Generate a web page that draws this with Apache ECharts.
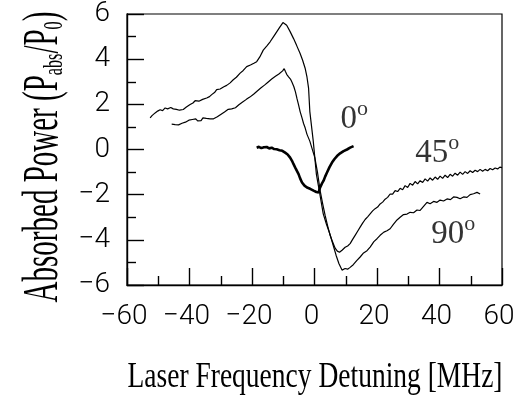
<!DOCTYPE html>
<html>
<head>
<meta charset="utf-8">
<script src="https://cdn.jsdelivr.net/npm/echarts@6/dist/echarts.min.js"></script>
<style>
html, body { margin: 0; padding: 0; background: #fff; }
#main { width: 526px; height: 403px; }
</style>
</head>
<body>
<div id="main"></div>
<script>
// x: detuning [MHz], y: absorbed power
var curve0 = [[-18.5,0.08],[-17.8,0.12],[-17.0,0.06],[-16.2,0.10],[-15.3,0.11],[-14.5,0.05],[-13.7,0.08],[-12.9,0.02],
    [-12.1,0.01],[-11.2,-0.03],[-10.3,-0.06],[-9.4,-0.14],[-8.6,-0.22],[-7.8,-0.36],[-7.2,-0.50],[-6.7,-0.65],[-6.0,-0.85],
    [-5.1,-1.09],[-4.6,-1.28],[-4.0,-1.46],[-3.2,-1.60],[-2.4,-1.68],[-1.4,-1.74],[-0.3,-1.82],[0.6,-1.88],[1.3,-1.90],
    [1.8,-1.68],[2.4,-1.50],[2.9,-1.38],[3.4,-1.20],[4.0,-1.02],[4.8,-0.78],[5.6,-0.58],[6.4,-0.42],[7.2,-0.29],[8.2,-0.17],
    [9.3,-0.07],[10.4,0.00],[11.4,0.08],[12.5,0.15]];

var curve45 = [[-45.7,1.12],[-45.2,1.05],[-44.6,1.10],[-44.1,1.02],[-43.5,1.09],[-43.0,1.05],[-42.4,1.16],[-41.9,1.10],
    [-41.3,1.21],[-40.8,1.14],[-40.2,1.30],[-39.7,1.22],[-39.1,1.33],[-38.6,1.25],[-38.0,1.36],[-37.4,1.27],[-36.9,1.35],
    [-36.3,1.28],[-35.7,1.40],[-35.1,1.32],[-34.6,1.38],[-34.0,1.30],[-33.4,1.36],[-32.8,1.29],[-32.3,1.36],[-31.7,1.32],
    [-31.1,1.45],[-30.5,1.40],[-30.0,1.55],[-29.4,1.48],[-28.8,1.66],[-28.2,1.60],[-27.6,1.78],[-27.1,1.70],[-26.5,1.80],
    [-25.9,1.72],[-25.3,1.85],[-24.7,1.80],[-24.2,1.98],[-23.6,1.92],[-23.0,2.10],[-22.4,2.02],[-21.8,2.22],[-21.3,2.14],
    [-20.7,2.32],[-20.1,2.26],[-19.5,2.45],[-18.9,2.40],[-18.4,2.58],[-17.8,2.52],[-17.2,2.72],[-16.6,2.66],[-16.0,2.85],
    [-15.5,2.80],[-14.9,2.98],[-14.3,2.92],[-13.7,3.12],[-13.1,3.08],[-12.5,3.24],[-12.0,3.18],[-11.4,3.34],[-10.8,3.28],
    [-10.2,3.48],[-9.7,3.58],[-9.3,3.45],[-8.9,3.33],[-8.3,3.22],[-7.7,3.12],[-7.2,2.98],[-6.6,2.78],[-6.1,2.55],[-5.6,2.25],
    [-5.1,1.98],[-4.6,1.68],[-4.0,1.40],[-3.5,1.15],[-3.0,0.96],[-2.4,0.67],[-1.5,0.37],[0.1,-0.36],[1.0,-1.05],[1.8,-1.82],
    [2.6,-2.40],[3.4,-2.92],[4.2,-3.38],[5.0,-3.80],[5.8,-4.10],[6.6,-4.37],[7.3,-4.50],[8.0,-4.55],[8.9,-4.45],[9.8,-4.33],
    [10.6,-4.27],[11.4,-4.17],[12.2,-3.98],[13.0,-3.80],[13.8,-3.62],[14.6,-3.44],[15.4,-3.26],[16.2,-3.10],[17.0,-2.98],
    [17.8,-2.85],[18.6,-2.72],[19.4,-2.62],[20.2,-2.55],[21.0,-2.41],[21.8,-2.33],[22.6,-2.20],[23.4,-2.12],[24.2,-1.97],
    [25.0,-1.98],[25.8,-1.82],[26.6,-1.86],[27.4,-1.72],[28.2,-1.78],[29.0,-1.60],[29.8,-1.68],[30.6,-1.50],[31.4,-1.58],
    [32.2,-1.42],[33.0,-1.52],[33.8,-1.38],[34.6,-1.46],[35.4,-1.30],[36.2,-1.40],[37.0,-1.26],[37.8,-1.36],[38.6,-1.22],
    [39.4,-1.32],[40.2,-1.18],[41.0,-1.28],[41.8,-1.14],[42.6,-1.24],[43.4,-1.10],[44.2,-1.18],[45.0,-1.05],[45.8,-1.14],
    [46.6,-1.00],[47.4,-1.10],[48.2,-0.98],[49.0,-1.06],[49.8,-0.94],[50.6,-1.02],[51.4,-0.92],[52.2,-0.98],[53.0,-0.88],
    [53.8,-0.96],[54.6,-0.88],[55.4,-0.94],[56.2,-0.84],[57.0,-0.90],[57.8,-0.82],[58.6,-0.86],[59.3,-0.78],[60.0,-0.80]];

var curve90 = [[-52.6,1.40],[-52.0,1.50],[-51.0,1.62],[-50.2,1.70],[-49.4,1.76],[-48.6,1.72],[-47.8,1.84],[-47.0,1.80],
    [-46.0,1.86],[-45.2,1.80],[-44.2,1.78],[-43.2,1.74],[-42.0,1.77],[-41.0,1.88],[-39.8,1.99],[-38.9,2.06],[-38.2,2.16],
    [-37.0,2.14],[-35.8,2.22],[-34.5,2.28],[-33.6,2.34],[-32.9,2.43],[-32.0,2.52],[-31.3,2.65],[-30.2,2.68],[-29.0,2.78],
    [-28.1,2.84],[-27.0,2.95],[-26.0,3.09],[-25.0,3.20],[-23.8,3.38],[-22.8,3.50],[-21.7,3.67],[-20.5,3.74],[-19.4,3.82],
    [-18.5,3.89],[-17.5,4.10],[-16.4,4.40],[-15.3,4.58],[-14.2,4.77],[-13.1,5.00],[-12.1,5.21],[-11.1,5.42],[-10.1,5.62],
    [-9.5,5.56],[-8.9,5.50],[-7.8,5.22],[-6.7,4.91],[-5.7,4.60],[-4.6,4.25],[-3.8,3.95],[-3.0,3.60],[-2.4,3.20],[-1.9,2.72],
    [-1.5,1.69],[-0.4,0.37],[0.6,-1.09],[1.7,-1.97],[2.8,-2.85],[3.8,-3.30],[4.9,-3.73],[6.0,-4.25],[6.9,-4.68],[7.8,-5.05],
    [8.8,-5.34],[9.8,-5.27],[10.6,-5.30],[11.4,-5.22],[12.4,-5.10],[13.5,-4.92],[14.6,-4.76],[15.7,-4.58],[16.8,-4.48],
    [17.8,-4.32],[19.0,-4.08],[20.0,-3.95],[21.0,-3.80],[22.2,-3.66],[23.2,-3.60],[24.2,-3.51],[25.3,-3.30],[26.4,-3.12],
    [27.4,-3.00],[28.5,-2.88],[29.6,-2.86],[30.6,-2.78],[31.7,-2.80],[32.8,-2.68],[33.8,-2.70],[34.9,-2.52],[36.0,-2.34],
    [37.0,-2.40],[38.1,-2.30],[39.2,-2.34],[40.2,-2.24],[41.3,-2.28],[42.4,-2.19],[43.5,-2.22],[44.5,-2.10],[45.6,-2.12],
    [46.6,-2.18],[47.7,-2.10],[48.8,-2.12],[49.8,-2.00],[50.9,-1.96],[52.0,-1.90],[53.0,-1.97]];

// angle labels placed in data coordinates
var angleText = ['0', '45', '90'];
var angleX = [12.7, 39.3, 44.4];
var angleY = [1.45, -0.07, -3.65];

var xTicks = {min: -60, max: 60, step: 20};
var yTicks = {min: -6, max: 6, step: 2};

function minus(v) {
    return String(v).replace('-', '\u2212');
}

var tickFont = {fontSize: 28, fontFamily: 'Roboto', fontWeight: 300, color: '#000'};
var black = {color: '#000', width: 1.4};

var labelData = [];
for (var i = 0; i < angleText.length; i++) {
    labelData.push({value: [angleX[i], angleY[i]], name: angleText[i]});
}

var myChart = echarts.init(document.getElementById('main'));

var option = {
    animation: false,
    backgroundColor: '#fff',
    grid: {left: 127, right: 24, top: 12, bottom: 118, show: true, borderColor: '#000', borderWidth: 1.2},
    xAxis: {
        type: 'value',
        min: xTicks.min, max: xTicks.max, interval: xTicks.step,
        axisLine: {show: true, onZero: false, lineStyle: black},
        axisTick: {show: true, inside: true, length: 17, lineStyle: black},
        minorTick: {show: true, splitNumber: 2, length: 9, lineStyle: black},
        splitLine: {show: false},
        axisLabel: Object.assign({margin: 18, padding: [0, 6, 0, 0], formatter: minus}, tickFont)
    },
    yAxis: {
        type: 'value',
        min: yTicks.min, max: yTicks.max, interval: yTicks.step,
        axisLine: {show: true, onZero: false, lineStyle: black},
        axisTick: {show: true, inside: true, length: 17, lineStyle: black},
        minorTick: {show: true, splitNumber: 2, length: 9, lineStyle: black},
        splitLine: {show: false},
        axisLabel: Object.assign({margin: 17, padding: [7, 0, 0, 0], formatter: minus}, tickFont)
    },
    series: [{
        name: '90',
        type: 'line',
        data: curve90,
        showSymbol: false,
        lineStyle: {color: '#000', width: 1.2}
    }, {
        name: '45',
        type: 'line',
        data: curve45,
        showSymbol: false,
        lineStyle: {color: '#000', width: 1.2}
    }, {
        name: '0',
        type: 'line',
        data: curve0,
        showSymbol: false,
        lineStyle: {color: '#000', width: 2.6}
    }, {
        name: 'labels',
        type: 'scatter',
        data: labelData,
        symbolSize: 1,
        silent: true,
        itemStyle: {color: 'transparent'},
        label: {
            show: true,
            position: 'inside',
            formatter: function (p) { return '{d|' + p.name + '}{o|o}'; },
            rich: {
                d: {fontSize: 33, fontFamily: 'Liberation Serif', color: '#000', padding: [5, 0, 0, 0], verticalAlign: 'top'},
                o: {fontSize: 22, fontFamily: 'Liberation Serif', color: '#000', verticalAlign: 'top'}
            }
        }
    }],
    graphic: [{
        type: 'text',
        x: 315,
        y: 378,
        scaleX: 0.764,
        silent: true,
        style: {
            text: 'Laser Frequency Detuning [MHz]',
            fontSize: 36,
            fontFamily: 'Liberation Serif',
            fill: '#000',
            align: 'center', textAlign: 'center',
            verticalAlign: 'middle', textVerticalAlign: 'middle'
        }
    }, {
        type: 'text',
        x: 44,
        y: 157,
        rotation: Math.PI / 2,
        scaleX: 0.58,
        silent: true,
        style: {
            text: '{m|Absorbed Power (P}{s|abs}{m|/P}{s|0}{m|)}',
            fill: '#000',
            align: 'center', textAlign: 'center',
            verticalAlign: 'middle', textVerticalAlign: 'middle',
            rich: {
                m: {fontSize: 50, fontFamily: 'Liberation Serif', fill: '#000', lineHeight: 50, verticalAlign: 'top'},
                s: {fontSize: 28, fontFamily: 'Liberation Serif', fill: '#000', lineHeight: 28, padding: [30, 0, 0, 0], verticalAlign: 'bottom'}
            }
        }
    }]
};

myChart.setOption(option);
</script>
</body>
</html>
